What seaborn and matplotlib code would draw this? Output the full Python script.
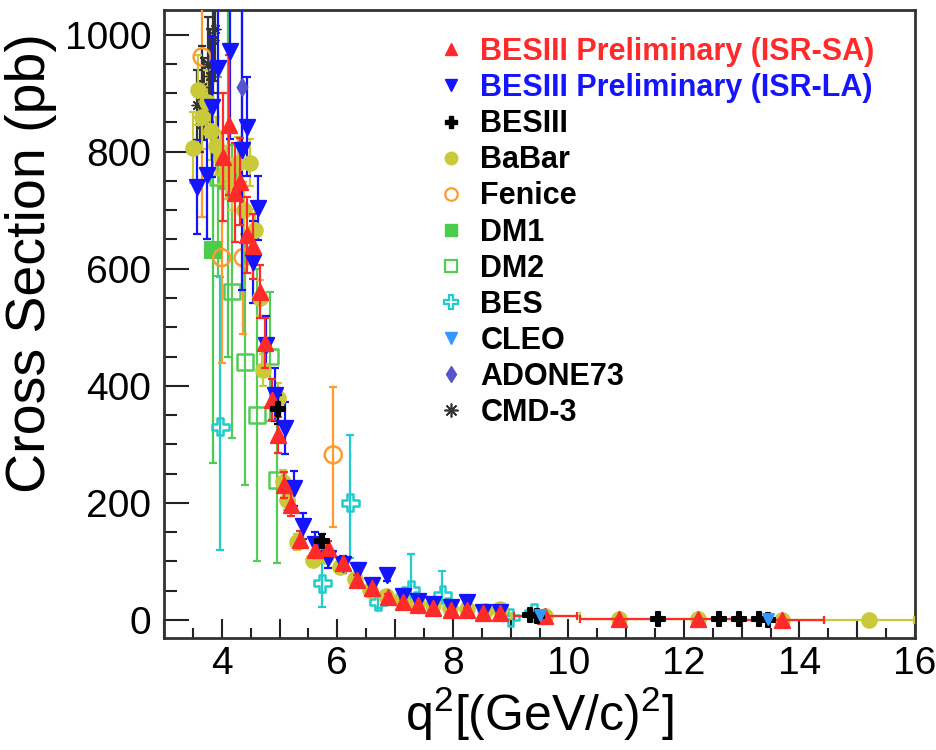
import numpy as np
import pandas as pd
import matplotlib
matplotlib.use("Agg")
import matplotlib.pyplot as plt
import seaborn as sns
from matplotlib.lines import Line2D
from matplotlib.ticker import MultipleLocator, FuncFormatter

# ---------------- data ----------------
# BESIII Preliminary (ISR-SA)
sa_x = [4.02, 4.13, 4.23, 4.32, 4.44, 4.54, 4.66, 4.75, 4.87, 4.98, 5.08, 5.20, 5.36, 5.62, 5.84,
        6.10, 6.34, 6.60, 6.88, 7.14, 7.40, 7.66, 7.96, 8.25, 8.53, 8.82, 9.60, 10.87, 12.24, 13.70]
sa_y = [791, 846, 730, 749, 658, 638, 561, 473, 376, 316, 231, 197, 137, 120, 123,
        97, 68, 55, 39, 31, 26, 21, 17, 17, 12, 11, 7, 2, 1.5, 0.5]
sa_err = [110, 120, 85, 75, 65, 55, 45, 43, 35, 30, 22, 20, 15, 12, 12,
          10, 8, 8, 6, 5, 5, 4, 4, 4, 3, 3, 2, 1, 1, 0.5]
sa_xerr = [0, 0, 0, 0, 0, 0, 0, 0, 0, 0, 0, 0, 0, 0, 0,
           0, 0, 0, 0, 0, 0, 0, 0, 0, 0, 0, 0.55, 0.67, 0.67, 0.72]

# BESIII Preliminary (ISR-LA)
la_x = [3.57, 3.75, 3.83, 3.94, 4.14, 4.35, 4.44, 4.54, 4.63, 4.77, 4.92, 5.10, 5.25, 5.41,
        5.62, 5.84, 6.10, 6.36, 6.60, 6.86, 7.14, 7.40, 7.66, 7.96, 8.25, 8.53, 8.82]
la_y = [740, 760, 877, 943, 972, 803, 843, 612, 704, 470, 385, 328, 225, 160,
        130, 106, 95, 85, 60, 77, 40, 33, 27, 22, 31, 14, 14]
la_err = [80, 110, 120, 130, 150, 240, 85, 70, 55, 50, 45, 45, 30, 22,
          20, 18, 15, 12, 10, 10, 8, 7, 6, 5, 6, 4, 4]

# BESIII
b3_x = [4.98, 5.74, 9.34, 9.45, 11.55, 12.60, 12.95, 13.30, 13.45]
b3_y = [360, 135, 8, 7, 2, 1.5, 1, 0.8, 0.6]
b3_err = [25, 12, 2, 2, 1, 1, 1, 0.8, 0.6]

# BaBar
bb_x = [3.50, 3.59, 3.66, 3.74, 3.82, 3.90, 3.98, 4.08, 4.18, 4.28,
        4.38, 4.49, 4.58, 4.66, 4.72, 4.98, 5.06, 5.13, 5.30, 5.58,
        5.80, 6.05, 6.30, 6.57, 6.85, 7.10, 7.38, 7.65, 7.95, 8.25,
        8.56, 8.82, 9.60, 10.87, 12.24, 13.70, 15.20]
bb_y = [807, 906, 860, 885, 835, 810, 790, 765, 745, 780,
        700, 781, 667, 550, 427, 379, 236, 205, 133, 103,
        110, 90, 70, 51, 40, 35, 29, 25, 20, 18,
        16, 18, 6, 2, 1, 0.5, 0.3]
bb_err = [60, 60, 55, 55, 50, 50, 45, 45, 45, 45,
          40, 40, 35, 30, 28, 25, 20, 18, 14, 12,
          10, 8, 7, 6, 5, 5, 4, 4, 3, 3,
          3, 3, 2, 1, 1, 0.5, 0.5]
bb_xerr = [0, 0, 0, 0, 0, 0, 0, 0, 0, 0,
           0, 0, 0, 0, 0, 0, 0, 0, 0, 0,
           0, 0, 0, 0, 0, 0, 0, 0, 0, 0,
           0, 0, 0.6, 0.67, 0.67, 0.72, 0.78]

# Fenice
fe_x = [3.66, 4.00, 4.37, 5.93]
fe_y = [962, 619, 619, 282]
fe_lo = [273, 180, 130, 123]
fe_hi = [273, 180, 130, 116]

# DM1
dm1_x = [3.85, 4.11]
dm1_y = [632, 750]
dm1_err = [364, 300]

# DM2
dm2_x = [3.94, 4.18, 4.40, 4.61, 4.84, 4.96]
dm2_y = [757, 561, 441, 350, 450, 239]
dm2_err = [170, 250, 210, 250, 110, 142]

# BES
bes_x = [3.97, 5.74, 6.22, 6.71, 7.27, 7.82, 9.00, 9.40]
bes_y = [330, 63, 200, 31, 52, 43, 4, 12]
bes_lo = [210, 41, 94, 10, 20, 15, 3, 5]
bes_hi = [256, 74, 116, 10, 60, 40, 3, 5]

# CLEO
cleo_x = [9.50, 13.45]
cleo_y = [9, 1.5]
cleo_err = [3, 1]

# ADONE73
ad_x = [4.35]
ad_y = [911]
ad_lo = [100]
ad_hi = [200]

# CMD-3
cmd_x = [3.58, 3.62, 3.66, 3.70, 3.76, 3.80, 3.84, 3.88]
cmd_y = [880, 860, 910, 890, 950, 930, 990, 1010]
cmd_err = [60, 60, 70, 70, 80, 80, 90, 90]

legend_labels = ["BESIII Preliminary (ISR-SA)", "BESIII Preliminary (ISR-LA)", "BESIII",
                 "BaBar", "Fenice", "DM1", "DM2", "BES", "CLEO", "ADONE73", "CMD-3"]

# ---------------- style ----------------
sns.set_style("ticks")
plt.rcParams["font.family"] = ["Liberation Sans", "DejaVu Sans"]
plt.rcParams["mathtext.fontset"] = "custom"
plt.rcParams["mathtext.rm"] = "Liberation Sans"
plt.rcParams["mathtext.it"] = "Liberation Sans:italic"
plt.rcParams["mathtext.bf"] = "Liberation Sans:bold"
plt.rcParams["text.color"] = "black"
plt.rcParams["axes.labelcolor"] = "black"

C_RED = "#ff2a2a"
C_BLUE = "#1414ff"
C_BLACK = "#000000"
C_BABAR = "#c9c93a"
C_FEN = "#ff9a33"
C_DM1 = "#4ccc4c"
C_DM2 = "#55cc55"
C_BES = "#20cccc"
C_CLEO = "#3399ff"
C_AD = "#5555cc"
C_CMD = "#333333"

fig = plt.figure(figsize=(9.36, 7.5), dpi=100)
ax = fig.add_axes([0.1752, 0.1493, 0.8024, 0.8373])


def draw(x, y, lo, hi, color, marker, s, filled=True, xerr=None, z=3, lw=1.6, mlw=1.5):
    ax.errorbar(x, y, yerr=[lo, hi], xerr=xerr, fmt="none", ecolor=color,
                elinewidth=lw, capsize=3.0, capthick=lw, zorder=z)
    df = pd.DataFrame({"x": x, "y": y})
    sns.scatterplot(data=df, x="x", y="y", marker=marker, s=s, ax=ax,
                    facecolor=(color if filled else "none"), edgecolor=color,
                    linewidth=mlw, zorder=z + 0.5, legend=False)


draw(dm2_x, dm2_y, dm2_err, dm2_err, C_DM2, "s", 130, filled=False, z=2, mlw=1.8)
draw(dm1_x, dm1_y, dm1_err, dm1_err, C_DM1, "s", 120, z=2.2)
draw(bes_x, bes_y, bes_lo, bes_hi, C_BES, "P", 150, filled=False, z=2.4, mlw=1.8)
draw(fe_x, fe_y, fe_lo, fe_hi, C_FEN, "o", 150, filled=False, z=2.6, mlw=1.8)
draw(cmd_x, cmd_y, cmd_err, cmd_err, C_CMD, (8, 2, 0), 60, z=2.8, mlw=1.0)
draw(bb_x, bb_y, bb_err, bb_err, C_BABAR, "o", 110, xerr=bb_xerr, z=3)
draw(ad_x, ad_y, ad_lo, ad_hi, C_AD, "d", 70, z=3.2)
draw(la_x, la_y, la_err, la_err, C_BLUE, "v", 120, z=3.4)
draw(sa_x, sa_y, sa_err, sa_err, C_RED, "^", 120, xerr=sa_xerr, z=3.6)
draw(b3_x, b3_y, b3_err, b3_err, C_BLACK, "P", 90, z=3.8)
draw(cleo_x, cleo_y, cleo_err, cleo_err, C_CLEO, "v", 60, z=3.9)

ax.set_xlim(3, 16)
ax.set_ylim(-31, 1042)

# ticks
ax.xaxis.set_major_locator(MultipleLocator(1))
ax.xaxis.set_minor_locator(MultipleLocator(0.5))
ax.xaxis.set_major_formatter(FuncFormatter(lambda v, p: f"{int(round(v))}" if int(round(v)) % 2 == 0 else ""))
ax.yaxis.set_major_locator(MultipleLocator(200))
ax.yaxis.set_minor_locator(MultipleLocator(50))
ax.tick_params(axis="both", which="both", direction="in", top=False, right=False,
               colors="#222222", labelcolor="black", width=1.5)
ax.tick_params(axis="x", which="major", length=14, pad=6, labelsize=28)
ax.tick_params(axis="x", which="minor", length=7)
ax.tick_params(axis="y", which="major", length=18, pad=9, labelsize=28)
ax.tick_params(axis="y", which="minor", length=9.5)
for sp in ax.spines.values():
    sp.set_color("#333333")
    sp.set_linewidth(2.0)

ax.set_ylabel("Cross Section (pb)", fontsize=40, loc="top", color="black")
ax.yaxis.set_label_coords(-0.142, 0.963)
ax.set_xlabel(r"q$^{2}$[(GeV/c)$^{2}$]", fontsize=36, va="top", color="black")
ax.xaxis.set_label_coords(0.5, -0.075)

handles = [
    Line2D([], [], ls="none", marker="^", ms=9, color=C_RED),
    Line2D([], [], ls="none", marker="v", ms=9, color=C_BLUE),
    Line2D([], [], ls="none", marker="P", ms=8, color=C_BLACK),
    Line2D([], [], ls="none", marker="o", ms=9, color=C_BABAR),
    Line2D([], [], ls="none", marker="o", ms=9, mfc="none", mec=C_FEN, mew=1.6),
    Line2D([], [], ls="none", marker="s", ms=9, color=C_DM1),
    Line2D([], [], ls="none", marker="s", ms=9, mfc="none", mec=C_DM2, mew=1.6),
    Line2D([], [], ls="none", marker="P", ms=10, mfc="none", mec=C_BES, mew=1.6),
    Line2D([], [], ls="none", marker="v", ms=9, color=C_CLEO),
    Line2D([], [], ls="none", marker="d", ms=8, color=C_AD),
    Line2D([], [], ls="none", marker=(8, 2, 0), ms=10, color=C_CMD, mec=C_CMD, mew=1.2),
]
leg = ax.legend(handles, legend_labels, loc="upper left", bbox_to_anchor=(439 / 936, 1 - 37 / 750),
                bbox_transform=fig.transFigure, frameon=False, borderpad=0, borderaxespad=0,
                handlelength=0.8, handletextpad=0.55, labelspacing=0.20,
                prop={"family": "Liberation Sans", "weight": "bold", "size": 22})
leg.get_texts()[0].set_color(C_RED)
leg.get_texts()[1].set_color(C_BLUE)
for t in leg.get_texts()[2:]:
    t.set_color("black")

fig.savefig("out.png", dpi=100)
